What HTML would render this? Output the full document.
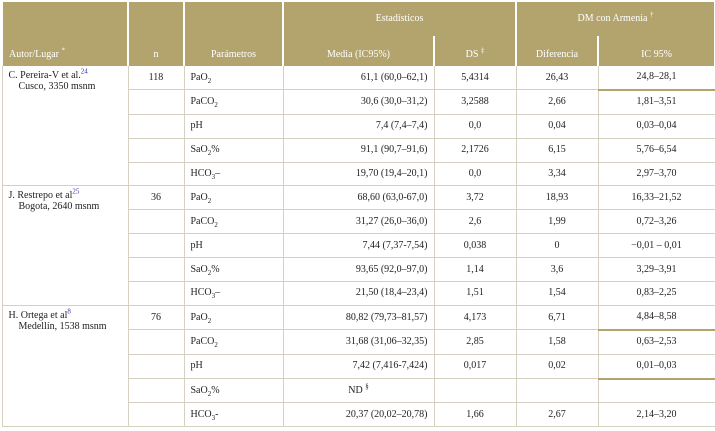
<!DOCTYPE html>
<html><head><meta charset="utf-8"><style>
body{margin:0;background:#fff;width:715px;height:431px;overflow:hidden}
table{position:absolute;left:1px;top:2px;border-collapse:collapse;table-layout:fixed;width:713px;font-family:"Liberation Serif",serif;font-size:10px;color:#222}
td,th{border:1px solid #d6d0c0;padding:0 6px;white-space:nowrap;overflow:hidden;line-height:12px}
th{background:#b3a46e;color:#fff;font-weight:normal;border-color:#fff;border-width:0 2px}
tr.h1 th{height:34px}
tr.h2 th{height:25px;vertical-align:bottom;padding-bottom:4px}
td{height:22.9px}
.c{text-align:center}.r{text-align:right}
.au{vertical-align:top;padding-top:4px;line-height:11px}
sup{font-size:7px;color:#33a;line-height:0}
th sup{color:#fff}
sub{font-size:7px;line-height:0}
.g td{border-top:1px solid #b3a46e}
.t{border-bottom:2px solid #b3a46e}
</style></head><body>
<table>
<colgroup><col style="width:126px"><col style="width:56px"><col style="width:99px"><col style="width:151px"><col style="width:82px"><col style="width:82px"><col style="width:117px"></colgroup>
<tr class="h1"><th rowspan="2" style="text-align:left;vertical-align:bottom;padding-bottom:4px">Autor/Lugar <sup>*</sup></th><th rowspan="2" style="vertical-align:bottom;padding-bottom:4px">n</th><th rowspan="2" style="vertical-align:bottom;padding-bottom:4px">Parámetros</th><th colspan="2">Estadísticos</th><th colspan="2">DM con Armenia <sup>†</sup></th></tr>
<tr class="h2"><th>Media (IC95%)</th><th>DS <sup>‡</sup></th><th>Diferencia</th><th>IC 95%</th></tr>

<tr class="g"><td rowspan="5" class="au">C. Pereira-V et al.<sup>24</sup><br>&nbsp;&nbsp;&nbsp;&nbsp;Cusco, 3350 msnm</td><td class="c">118</td><td>PaO<sub>2</sub></td><td class="r">61,1 (60,0–62,1)</td><td class="c">5,4314</td><td class="c">26,43</td><td class="c t">24,8–28,1</td></tr>
<tr><td></td><td>PaCO<sub>2</sub></td><td class="r">30,6 (30,0–31,2)</td><td class="c">3,2588</td><td class="c">2,66</td><td class="c">1,81–3,51</td></tr>
<tr><td></td><td>pH</td><td class="r">7,4 (7,4–7,4)</td><td class="c">0,0</td><td class="c">0,04</td><td class="c">0,03–0,04</td></tr>
<tr><td></td><td>SaO<sub>2</sub>%</td><td class="r">91,1 (90,7–91,6)</td><td class="c">2,1726</td><td class="c">6,15</td><td class="c">5,76–6,54</td></tr>
<tr><td></td><td>HCO<sub>3</sub>–</td><td class="r">19,70 (19,4–20,1)</td><td class="c">0,0</td><td class="c">3,34</td><td class="c">2,97–3,70</td></tr>

<tr class="g"><td rowspan="5" class="au">J. Restrepo et al<sup>25</sup><br>&nbsp;&nbsp;&nbsp;&nbsp;Bogota, 2640 msnm</td><td class="c">36</td><td>PaO<sub>2</sub></td><td class="r">68,60 (63,0-67,0)</td><td class="c">3,72</td><td class="c">18,93</td><td class="c">16,33–21,52</td></tr>
<tr><td></td><td>PaCO<sub>2</sub></td><td class="r">31,27 (26,0–36,0)</td><td class="c">2,6</td><td class="c">1,99</td><td class="c">0,72–3,26</td></tr>
<tr><td></td><td>pH</td><td class="r">7,44 (7,37-7,54)</td><td class="c">0,038</td><td class="c">0</td><td class="c">−0,01 – 0,01</td></tr>
<tr><td></td><td>SaO<sub>2</sub>%</td><td class="r">93,65 (92,0–97,0)</td><td class="c">1,14</td><td class="c">3,6</td><td class="c">3,29–3,91</td></tr>
<tr><td></td><td>HCO<sub>3</sub>–</td><td class="r">21,50 (18,4–23,4)</td><td class="c">1,51</td><td class="c">1,54</td><td class="c">0,83–2,25</td></tr>

<tr class="g"><td rowspan="5" class="au">H. Ortega et al<sup>8</sup><br>&nbsp;&nbsp;&nbsp;&nbsp;Medellín, 1538 msnm</td><td class="c">76</td><td>PaO<sub>2</sub></td><td class="r">80,82 (79,73–81,57)</td><td class="c">4,173</td><td class="c">6,71</td><td class="c t">4,84–8,58</td></tr>
<tr><td></td><td>PaCO<sub>2</sub></td><td class="r">31,68 (31,06–32,35)</td><td class="c">2,85</td><td class="c">1,58</td><td class="c">0,63–2,53</td></tr>
<tr><td></td><td>pH</td><td class="r">7,42 (7,416-7,424)</td><td class="c">0,017</td><td class="c">0,02</td><td class="c t">0,01–0,03</td></tr>
<tr><td></td><td>SaO<sub>2</sub>%</td><td class="c">ND <sup style="color:#222">§</sup></td><td></td><td></td><td></td></tr>
<tr><td></td><td>HCO<sub>3</sub>-</td><td class="r">20,37 (20,02–20,78)</td><td class="c">1,66</td><td class="c">2,67</td><td class="c">2,14–3,20</td></tr>
</table>
</body></html>
